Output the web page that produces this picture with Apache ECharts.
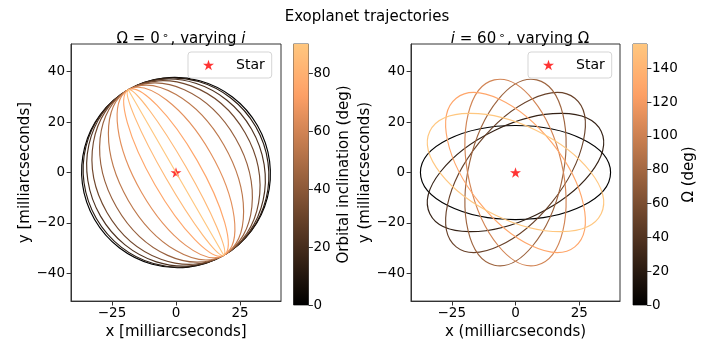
<!DOCTYPE html>
<html>
<head>
<meta charset="utf-8">
<script src="https://cdn.jsdelivr.net/npm/echarts@6/dist/echarts.min.js"></script>
<style>
html,body{margin:0;padding:0;background:#fff;}
#chart{width:724px;height:345px;}
</style>
</head>
<body>
<div id="chart"></div>
<script>
// ---- data ----
const semiMajorAxis = 37.3;                         // milliarcseconds (circular orbits)
const inclinations = [0, 12, 22, 32, 43, 54, 65, 75, 83, 90]; // left panel, deg (estimated)
const nodeAngleLeft = 120;                          // deg, apparent node line on left panel
const inclinationMax = 90;
const omegas = [0, 25.7, 51.4, 77.1, 102.9, 128.6, 154.3];    // right panel, deg
const inclinationRight = 60;                        // deg
const omegaMax = 154.3;
const starPos = [[0, 0]];
const xTicks = [-25, 0, 25];
const yTicks = [-40, -20, 0, 20, 40];
const cbTicksLeft = [0, 20, 40, 60, 80];
const cbTicksRight = [0, 20, 40, 60, 80, 100, 120, 140];
const xRange = [-41, 41];
const yRange = [-51, 51];

// ---- helpers ----
const FONT = 'DejaVu Sans';
function copper(f) {
  f = Math.max(0, Math.min(1, f));
  const r = Math.min(1, f / 0.809524), g = 0.7812 * f, b = 0.4975 * f;
  const h = v => Math.round(v * 255).toString(16).padStart(2, '0');
  return '#' + h(r) + h(g) + h(b);
}
function starPath() {
  const pts = [];
  for (let k = 0; k < 10; k++) {
    const r = (k % 2) ? 0.381966 : 1;
    const a = (-90 + k * 36) * Math.PI / 180;
    pts.push([(50 + 50 * r * Math.cos(a)).toFixed(2), (50 + 50 * r * Math.sin(a)).toFixed(2)]);
  }
  return 'path://M' + pts.map(p => p[0] + ' ' + p[1]).join(' L') + ' Z';
}
const STAR = starPath();
const minus = v => String(v).replace('-', '\u2212');
const rad = d => d * Math.PI / 180;

function ellipseRenderer(kind) {
  return function (params, api) {
    const v = api.value(2);
    const c = api.coord([0, 0]);
    let incl, rot, frac;
    if (kind === 'left') { incl = v; rot = nodeAngleLeft; frac = v / inclinationMax; }
    else { incl = inclinationRight; rot = v; frac = v / omegaMax; }
    const rx = api.size([semiMajorAxis, 0])[0];
    const ry = Math.max(0.01, api.size([0, semiMajorAxis * Math.cos(rad(incl))])[1]);
    return {
      type: 'ellipse',
      x: c[0], y: c[1],
      rotation: rad(rot),
      shape: { cx: 0, cy: 0, rx: rx, ry: ry },
      style: { fill: 'none', stroke: copper(frac), lineWidth: 1.15 }
    };
  };
}
function colorbarRenderer(max) {
  return function (params, api) {
    const p0 = api.coord([0, 0]);
    const p1 = api.coord([1, max]);
    const stops = [];
    for (let k = 0; k <= 20; k++) stops.push({ offset: k / 20, color: copper(1 - k / 20) });
    return {
      type: 'rect',
      shape: { x: p0[0], y: p1[1], width: p1[0] - p0[0], height: p0[1] - p1[1] },
      style: { fill: new echarts.graphic.LinearGradient(0, 0, 0, 1, stops) }
    };
  };
}

const tickStyle = { fontFamily: FONT, fontSize: 13.5, color: '#000' };
function mainX(gi, name) {
  return {
    type: 'value', gridIndex: gi, min: xRange[0], max: xRange[1],
    axisLine: { show: true, onZero: false, lineStyle: { color: '#333', width: 1 } },
    axisTick: { show: true, length: 4.4, customValues: xTicks, lineStyle: { color: '#333' } },
    axisLabel: Object.assign({ customValues: xTicks, formatter: minus, margin: 5 }, tickStyle),
    splitLine: { show: false },
    name: name, nameLocation: 'middle', nameGap: 20,
    nameTextStyle: { fontFamily: FONT, fontSize: 15, color: '#000' }
  };
}
function mainY(gi, name) {
  return {
    type: 'value', gridIndex: gi, min: yRange[0], max: yRange[1],
    axisLine: { show: true, onZero: false, lineStyle: { color: '#333', width: 1 } },
    axisTick: { show: true, length: 4.4, customValues: yTicks, lineStyle: { color: '#333' } },
    axisLabel: Object.assign({ customValues: yTicks, formatter: minus, margin: 6 }, tickStyle),
    splitLine: { show: false },
    name: name, nameLocation: 'middle', nameGap: 33, nameRotate: 90,
    nameTextStyle: { fontFamily: FONT, fontSize: 15, color: '#000' }
  };
}
function cbX(gi) {
  return { type: 'value', gridIndex: gi, min: 0, max: 1, show: false };
}
function cbY(gi, max, ticks, name, gap) {
  return {
    type: 'value', gridIndex: gi, min: 0, max: max, position: 'right',
    axisLine: { show: false, onZero: false },
    axisTick: { show: true, length: 4.4, customValues: ticks, lineStyle: { color: '#333' } },
    axisLabel: Object.assign({ margin: 5, customValues: ticks }, tickStyle),
    splitLine: { show: false },
    name: name, nameLocation: 'middle', nameGap: gap, nameRotate: 90,
    nameTextStyle: { fontFamily: FONT, fontSize: 15, color: '#000' }
  };
}
function legendAt(left) {
  return {
    left: left, top: 52, orient: 'horizontal',
    data: [{ name: 'Star', icon: STAR }],
    itemWidth: 11, itemHeight: 11,
    padding: [6, 7, 6, 15],
    borderColor: '#d5d5d5', borderWidth: 1, borderRadius: 3,
    backgroundColor: 'rgba(255,255,255,0.8)',
    textStyle: { fontFamily: FONT, fontSize: 14, color: '#000', padding: [0, 0, 0, 17] },
    selectedMode: false
  };
}
const subStyle = {
  fontFamily: FONT, fontSize: 15, fontWeight: 'normal', color: '#000',
  rich: {
    it: { fontFamily: FONT, fontSize: 15, fontStyle: 'italic', color: '#000' },
    deg: { fontFamily: FONT, fontSize: 11, color: '#000', padding: [0, 2, 6, 2] }
  }
};

const option = {
  animation: false,
  backgroundColor: '#fff',
  title: [
    { text: 'Exoplanet trajectories', left: 362, top: 5, textAlign: 'center',
      textStyle: { fontFamily: FONT, fontSize: 15, fontWeight: 'normal', color: '#000' } },
    { text: '\u03A9 = 0{deg|\u2218}, varying {it|i}', left: 176, top: 26, textAlign: 'center',
      textStyle: subStyle },
    { text: '{it|i} = 60{deg|\u2218}, varying \u03A9', left: 515, top: 26, textAlign: 'center',
      textStyle: subStyle }
  ],
  grid: [
    { left: 71, top: 44, width: 210, height: 261, show: true, borderColor: '#333', borderWidth: 1, backgroundColor: 'transparent' },
    { left: 411, top: 44, width: 209, height: 261, show: true, borderColor: '#333', borderWidth: 1, backgroundColor: 'transparent' },
    { left: 293.5, top: 44, width: 15, height: 261, show: true, borderColor: '#555', borderWidth: 1, backgroundColor: 'transparent' },
    { left: 633, top: 44, width: 14, height: 261, show: true, borderColor: '#555', borderWidth: 1, backgroundColor: 'transparent' }
  ],
  xAxis: [mainX(0, 'x [milliarcseconds]'), mainX(1, 'x (milliarcseconds)'), cbX(2), cbX(3)],
  yAxis: [mainY(0, 'y [milliarcseconds]'), mainY(1, 'y (milliarcseconds)'),
          cbY(2, inclinationMax, cbTicksLeft, 'Orbital inclination (deg)', 28),
          cbY(3, omegaMax, cbTicksRight, '\u03A9 (deg)', 23)],
  legend: [legendAt(188), legendAt(528)],
  series: [
    { name: 'Star', type: 'scatter', xAxisIndex: 0, yAxisIndex: 0, data: starPos,
      symbol: STAR, symbolSize: 11, symbolKeepAspect: true, itemStyle: { color: '#ff0000' }, z: 1 },
    { type: 'custom', xAxisIndex: 0, yAxisIndex: 0, renderItem: ellipseRenderer('left'),
      data: inclinations.map(v => [0, 0, v]), z: 2, silent: true },
    { name: 'Star', type: 'scatter', xAxisIndex: 1, yAxisIndex: 1, data: starPos,
      symbol: STAR, symbolSize: 11, symbolKeepAspect: true, itemStyle: { color: '#ff0000' }, z: 1 },
    { type: 'custom', xAxisIndex: 1, yAxisIndex: 1, renderItem: ellipseRenderer('right'),
      data: omegas.map(v => [0, 0, v]), z: 2, silent: true },
    { type: 'custom', xAxisIndex: 2, yAxisIndex: 2, renderItem: colorbarRenderer(inclinationMax),
      data: [[0, 0]], silent: true },
    { type: 'custom', xAxisIndex: 3, yAxisIndex: 3, renderItem: colorbarRenderer(omegaMax),
      data: [[0, 0]], silent: true }
  ]
};
const chart = echarts.init(document.getElementById('chart'), null, { renderer: 'canvas' });
chart.setOption(option);
</script>
</body>
</html>
